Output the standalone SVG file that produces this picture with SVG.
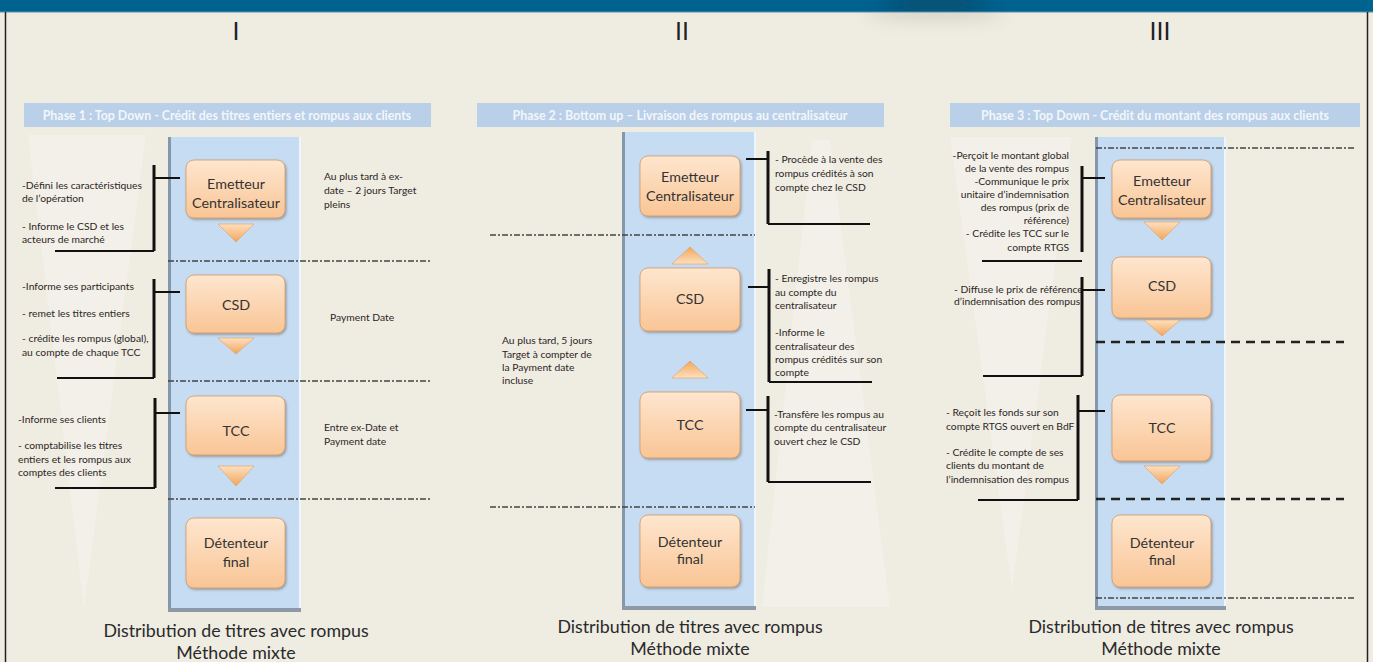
<svg xmlns="http://www.w3.org/2000/svg" width="1373" height="662" viewBox="0 0 1373 662">
  <defs>
    <linearGradient id="nodeFill" x1="0" y1="0" x2="0" y2="1">
      <stop offset="0" stop-color="#fee6cf"/>
      <stop offset="1" stop-color="#f9c595"/>
    </linearGradient>
    <linearGradient id="triFill" x1="0" y1="0" x2="0" y2="1">
      <stop offset="0" stop-color="#fde0c0"/>
      <stop offset="1" stop-color="#f3a55a"/>
    </linearGradient>
    <linearGradient id="triUpFill" x1="0" y1="1" x2="0" y2="0">
      <stop offset="0" stop-color="#fde0c0"/>
      <stop offset="1" stop-color="#f3a55a"/>
    </linearGradient>
    <filter id="nodeShadow" x="-10%" y="-10%" width="125%" height="130%">
      <feDropShadow dx="1.2" dy="1.5" stdDeviation="1" flood-color="#5a4a3a" flood-opacity="0.45"/>
    </filter>
    <filter id="soft" x="-50%" y="-200%" width="200%" height="500%">
      <feGaussianBlur stdDeviation="9"/>
    </filter>
    <clipPath id="barClip">
      <rect x="0" y="0" width="1373" height="12"/>
    </clipPath>
    <style>
      .band { fill: #b9d0e8; }
      .bandTxt { font-family: Lato, "Liberation Sans", sans-serif; font-size: 12.4px; font-weight: 700; fill: #f2f6fb; text-anchor: middle; }
      .col { fill: #c6dcf2; }
      .colL { stroke: #8597ab; stroke-width: 3; }
      .colB { stroke: #8d99a6; stroke-width: 4; }
      .colR { stroke: #eef5fc; stroke-width: 2; }
      .node rect { fill: url(#nodeFill); stroke: #d29a68; stroke-width: 0.8; filter: url(#nodeShadow); }
      .node text { font-family: Lato, "Liberation Sans", sans-serif; font-size: 14.3px; fill: #333; text-anchor: middle; }
      .tri { fill: url(#triFill); stroke: #e59b55; stroke-width: 0.6; }
      .triU { fill: url(#triUpFill); stroke: #e59b55; stroke-width: 0.6; }
      .dd { stroke: #444; stroke-width: 1.3; stroke-dasharray: 6 2 2 2; fill: none; }
      .dh { stroke: #222; stroke-width: 2.6; stroke-dasharray: 9 6; fill: none; }
      .br { stroke: #111; stroke-width: 3; fill: none; }
      .tk { stroke: #111; stroke-width: 1.8; fill: none; }
      .lbl { font-family: Lato, "Liberation Sans", sans-serif; font-size: 10.3px; fill: #2e2626; }
      .lblR { font-family: Lato, "Liberation Sans", sans-serif; font-size: 10.3px; fill: #2e2626; text-anchor: end; }
      .num { font-family: "Liberation Sans", sans-serif; font-size: 25px; fill: #222; text-anchor: middle; }
      .cap { font-family: Lato, "Liberation Sans", sans-serif; font-size: 17.8px; fill: #2a2a2a; text-anchor: middle; }
      .ghost { fill: #ffffff; opacity: 0.22; }
    </style>
  </defs>

  <!-- page background and frame -->
  <rect x="0" y="0" width="1373" height="662" fill="#efece2"/>
  <ellipse cx="935" cy="12" rx="70" ry="6" fill="#5b5a50" opacity="0.25" filter="url(#soft)"/>
  <rect x="0" y="0" width="1373" height="12" fill="#00628f"/>
  <ellipse cx="935" cy="4" rx="55" ry="8" fill="#0a3f5c" opacity="0.7" filter="url(#soft)" clip-path="url(#barClip)"/>
  <rect x="0" y="11.5" width="1373" height="1" fill="#5d8fa8"/>
  <line x1="5.5" y1="12" x2="5.5" y2="662" stroke="#222" stroke-width="1.5"/>
  <line x1="1367.5" y1="12" x2="1367.5" y2="662" stroke="#222" stroke-width="1.5"/>

  <!-- faint watermark wedges -->
  <polygon class="ghost" points="28,135 146,135 84,610"/>
  <polygon class="ghost" points="812,140 830,140 890,607 762,607"/>
  <polygon class="ghost" points="950,137 1072,137 1012,590"/>

  <!-- roman numerals -->
  <text class="num" x="236" y="40">I</text>
  <text class="num" x="682" y="40">II</text>
  <text class="num" x="1160" y="40">III</text>

  <!-- ===== Phase 1 ===== -->
  <g id="phase1">
    <rect class="band" x="24" y="103" width="407" height="24"/>
    <text class="bandTxt" x="227" y="119.5">Phase 1 : Top Down -  Crédit des titres entiers et rompus aux clients</text>
    <rect class="col" x="168" y="137" width="133" height="475"/>
    <line class="colL" x1="169.5" y1="137" x2="169.5" y2="612"/>
    <line class="colB" x1="168" y1="610" x2="301" y2="610"/>
    <line class="colR" x1="300" y1="137" x2="300" y2="608"/>
  </g>

  <g id="p1-emetteur" class="node">
    <rect x="186" y="160" width="99" height="58" rx="8"/>
    <text x="236" y="189">Emetteur</text>
    <text x="236" y="208">Centralisateur</text>
  </g>
  <g id="p1-csd" class="node">
    <rect x="186" y="275" width="99" height="58" rx="8"/>
    <text x="236" y="310">CSD</text>
  </g>
  <g id="p1-tcc" class="node">
    <rect x="186" y="396" width="99" height="59" rx="8"/>
    <text x="236" y="436">TCC</text>
  </g>
  <g id="p1-detenteur" class="node">
    <rect x="186" y="518" width="99" height="70" rx="8"/>
    <text x="236" y="548">Détenteur</text>
    <text x="236" y="567">final</text>
  </g>

  <g id="p1-labels">
    <text class="lbl" x="22" y="189">-Défini les caractéristiques</text>
    <text class="lbl" x="22" y="202">de l’opération</text>
    <text class="lbl" x="22" y="230">- Informe  le CSD et les</text>
    <text class="lbl" x="22" y="243">acteurs de marché</text>
    <text class="lbl" x="22" y="290">-Informe ses participants</text>
    <text class="lbl" x="22" y="317">- remet les titres entiers</text>
    <text class="lbl" x="22" y="342">- crédite les rompus (global),</text>
    <text class="lbl" x="22" y="356">au compte de chaque TCC</text>
    <text class="lbl" x="18" y="423">-Informe ses clients</text>
    <text class="lbl" x="18" y="449">- comptabilise les titres</text>
    <text class="lbl" x="18" y="463">entiers et les rompus aux</text>
    <text class="lbl" x="18" y="476">comptes des clients</text>
    <text class="lbl" x="324" y="180">Au plus tard à ex-</text>
    <text class="lbl" x="324" y="194">date – 2 jours Target</text>
    <text class="lbl" x="324" y="208">pleins</text>
    <text class="lbl" x="330" y="321">Payment Date</text>
    <text class="lbl" x="324" y="431">Entre ex-Date et</text>
    <text class="lbl" x="324" y="445">Payment date</text>
  </g>

  <!-- ===== Phase 2 ===== -->
  <g id="phase2">
    <rect class="band" x="477" y="103" width="407" height="24"/>
    <text class="bandTxt" x="680" y="119.5">Phase 2 : Bottom up – Livraison des rompus au centralisateur</text>
    <rect class="col" x="622" y="132" width="134" height="478"/>
    <line class="colL" x1="623.5" y1="132" x2="623.5" y2="610"/>
    <line class="colB" x1="622" y1="608" x2="756" y2="608"/>
    <line class="colR" x1="755" y1="132" x2="755" y2="606"/>
  </g>

  <g id="p2-emetteur" class="node">
    <rect x="640" y="156" width="100" height="60" rx="8"/>
    <text x="690" y="182">Emetteur</text>
    <text x="690" y="201">Centralisateur</text>
  </g>
  <g id="p2-csd" class="node">
    <rect x="640" y="268" width="100" height="63" rx="8"/>
    <text x="690" y="304">CSD</text>
  </g>
  <g id="p2-tcc" class="node">
    <rect x="640" y="392" width="100" height="66" rx="8"/>
    <text x="690" y="430">TCC</text>
  </g>
  <g id="p2-detenteur" class="node">
    <rect x="640" y="515" width="100" height="72" rx="8"/>
    <text x="690" y="547">Détenteur</text>
    <text x="690" y="564">final</text>
  </g>

  <g id="p2-labels">
    <text class="lbl" x="775" y="163">- Procède à la vente des</text>
    <text class="lbl" x="775" y="177">rompus crédités à son</text>
    <text class="lbl" x="775" y="191">compte chez le CSD</text>
    <text class="lbl" x="775" y="282">- Enregistre les rompus</text>
    <text class="lbl" x="775" y="296">au compte du</text>
    <text class="lbl" x="775" y="309">centralisateur</text>
    <text class="lbl" x="775" y="336">-Informe le</text>
    <text class="lbl" x="775" y="350">centralisateur des</text>
    <text class="lbl" x="775" y="363">rompus crédités sur son</text>
    <text class="lbl" x="775" y="376">compte</text>
    <text class="lbl" x="774" y="418">-Transfère les rompus au</text>
    <text class="lbl" x="774" y="431">compte du centralisateur</text>
    <text class="lbl" x="774" y="445">ouvert chez le CSD</text>
    <text class="lbl" x="502" y="344">Au plus tard, 5 jours</text>
    <text class="lbl" x="502" y="358">Target à compter de</text>
    <text class="lbl" x="502" y="371">la Payment date</text>
    <text class="lbl" x="502" y="384">incluse</text>
  </g>

  <!-- ===== Phase 3 ===== -->
  <g id="phase3">
    <rect class="band" x="950" y="103" width="410" height="24"/>
    <text class="bandTxt" x="1155" y="119.5">Phase 3 : Top Down -  Crédit du montant des rompus aux clients</text>
    <rect class="col" x="1095" y="137" width="131" height="473"/>
    <line class="colL" x1="1096.5" y1="137" x2="1096.5" y2="610"/>
    <line class="colB" x1="1095" y1="608" x2="1226" y2="608"/>
    <line class="colR" x1="1225" y1="137" x2="1225" y2="606"/>
  </g>

  <g id="p3-emetteur" class="node">
    <rect x="1112" y="160" width="99" height="58" rx="8"/>
    <text x="1162" y="186">Emetteur</text>
    <text x="1162" y="205">Centralisateur</text>
  </g>
  <g id="p3-csd" class="node">
    <rect x="1112" y="257" width="99" height="61" rx="8"/>
    <text x="1162" y="291">CSD</text>
  </g>
  <g id="p3-tcc" class="node">
    <rect x="1112" y="395" width="99" height="66" rx="8"/>
    <text x="1162" y="433">TCC</text>
  </g>
  <g id="p3-detenteur" class="node">
    <rect x="1112" y="515" width="99" height="72" rx="8"/>
    <text x="1162" y="548">Détenteur</text>
    <text x="1162" y="565">final</text>
  </g>

  <g id="p3-labels">
    <text class="lblR" x="1069" y="159">-Perçoit le montant global</text>
    <text class="lblR" x="1069" y="172">de la vente des rompus</text>
    <text class="lblR" x="1069" y="185">-Communique le prix</text>
    <text class="lblR" x="1069" y="198">unitaire d’indemnisation</text>
    <text class="lblR" x="1069" y="211">des rompus (prix de</text>
    <text class="lblR" x="1069" y="224">référence)</text>
    <text class="lblR" x="1069" y="237">- Crédite les TCC sur le</text>
    <text class="lblR" x="1069" y="251">compte RTGS</text>
    <text class="lbl" x="954" y="293">- Diffuse le prix de référence</text>
    <text class="lbl" x="954" y="305">d’indemnisation des rompus</text>
    <text class="lbl" x="946" y="416">- Reçoit les fonds sur son</text>
    <text class="lbl" x="946" y="430">compte RTGS ouvert en BdF</text>
    <text class="lbl" x="946" y="456">- Crédite le compte de ses</text>
    <text class="lbl" x="946" y="469">clients du montant de</text>
    <text class="lbl" x="946" y="483">l’indemnisation des rompus</text>
  </g>

  <!-- connectors: flow arrows, phase separators and label brackets -->
  <g id="connectors">
    <!-- phase 1 flow -->
    <polygon class="tri" points="218,224 254,224 236,242"/>
    <polygon class="tri" points="218,338 254,338 236,354"/>
    <polygon class="tri" points="218,466 254,466 236,486"/>
    <line class="dd" x1="168" y1="261" x2="432" y2="261"/>
    <line class="dd" x1="168" y1="381" x2="432" y2="381"/>
    <line class="dd" x1="168" y1="499" x2="432" y2="499"/>
    <path class="br" d="M154,165 V251"/>
    <path class="tk" d="M154,178 H180 M55,251 H154"/>
    <path class="br" d="M154,279 V378"/>
    <path class="tk" d="M154,292 H180 M57,378 H154"/>
    <path class="br" d="M155,398 V488"/>
    <path class="tk" d="M155,413 H180 M55,488 H155"/>

    <!-- phase 2 flow -->
    <polygon class="triU" points="672,264 708,264 690,247"/>
    <polygon class="triU" points="672,378 708,378 690,361"/>
    <line class="dd" x1="490" y1="235" x2="755" y2="235"/>
    <line class="dd" x1="490" y1="507" x2="755" y2="507"/>
    <path class="br" d="M768,151 V224"/>
    <path class="tk" d="M746,159 H768 M768,224 H870"/>
    <path class="br" d="M769,269 V382"/>
    <path class="tk" d="M748,287 H769 M769,382 H872"/>
    <path class="br" d="M768,396 V482"/>
    <path class="tk" d="M746,410 H768 M768,482 H871"/>

    <!-- phase 3 flow -->
    <polygon class="tri" points="1144,222 1180,222 1162,240"/>
    <polygon class="tri" points="1144,320 1180,320 1162,336"/>
    <polygon class="tri" points="1144,466 1180,466 1162,484"/>
    <line class="dd" x1="1096" y1="148" x2="1356" y2="148"/>
    <line class="dh" x1="1096" y1="342" x2="1344" y2="342"/>
    <line class="dh" x1="1096" y1="499" x2="1344" y2="499"/>
    <line class="dd" x1="1096" y1="598" x2="1356" y2="598"/>
    <path class="br" d="M1082,166 V252"/>
    <path class="tk" d="M1082,178 H1105 M982,261 H1082"/>
    <path class="br" d="M1082,277 V376"/>
    <path class="tk" d="M1082,290 H1105 M983,376 H1082"/>
    <path class="br" d="M1078,395 V500"/>
    <path class="tk" d="M1078,411 H1105 M978,500 H1078"/>
  </g>

  <!-- captions -->
  <text class="cap" x="236" y="637">Distribution de titres avec rompus</text>
  <text class="cap" x="236" y="659">Méthode mixte</text>
  <text class="cap" x="690" y="633">Distribution de titres avec rompus</text>
  <text class="cap" x="690" y="655">Méthode mixte</text>
  <text class="cap" x="1161" y="633">Distribution de titres avec rompus</text>
  <text class="cap" x="1161" y="655">Méthode mixte</text>
</svg>
